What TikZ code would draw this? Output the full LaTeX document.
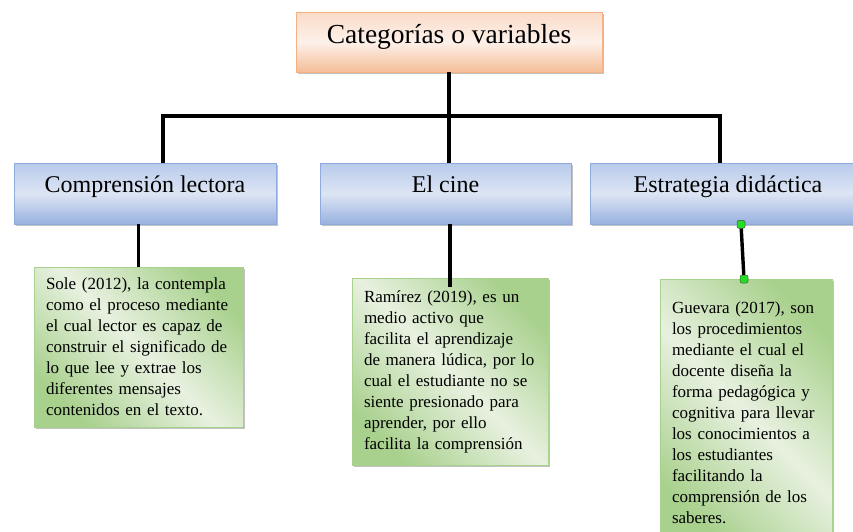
\documentclass[tikz,border=0pt]{standalone}
\usepackage{fontspec}
\setmainfont{Liberation Serif}
\usetikzlibrary{shadows}

\definecolor{peachtop}{HTML}{FADBC8}
\definecolor{peachmid}{HTML}{FDF1EA}
\definecolor{peachbot}{HTML}{F5BD98}
\definecolor{peachline}{HTML}{F4B183}
\definecolor{bluetop}{HTML}{B8CAEA}
\definecolor{bluemid}{HTML}{DDE5F4}
\definecolor{bluebot}{HTML}{98B1DF}
\definecolor{blueline}{HTML}{8FAADC}
\definecolor{greendark}{HTML}{A9D18E}
\definecolor{greenlight}{HTML}{E8F1E0}
\definecolor{handlegreen}{HTML}{22DD22}

\begin{document}
\begin{tikzpicture}[x=1pt, y=-1pt]
    \useasboundingbox (0,0) rectangle (853,531);
    \begin{scope}[all/.style={rectangle, line width=0.6pt, drop shadow={shadow xshift=1.5pt, shadow yshift=-1.5pt, opacity=0.4, fill=black!60}},
        catbox/.style={all, draw=peachline, top color=peachtop, bottom color=peachbot, middle color=peachmid,
            minimum width=306pt, minimum height=60pt, font=\fontsize{27.5}{31}\selectfont, text height=19pt, text depth=17pt},
        topic/.style={all, draw=blueline, top color=bluetop, bottom color=bluebot, middle color=bluemid,
            minimum height=61pt, font=\fontsize{24}{28}\selectfont, text height=17pt, text depth=20pt},
        note/.style={all, draw=greendark, shading=axis, top color=greendark, bottom color=greendark, middle color=greenlight, shading angle=-45,
            inner xsep=12pt, align=left, font=\fontsize{17}{21}\selectfont},
        link/.style={line width=3.4pt, black},
        handle/.style={rectangle, rounded corners=2pt, fill=handlegreen, draw=black!70, line width=0.5pt, minimum size=8pt, inner sep=0pt}]

        \node[catbox] (cat) at (449, 42) {Categorías o variables};

        \node[topic, minimum width=262pt] (comp) at (145, 193.5) {Comprensión lectora};
        \node[topic, minimum width=251pt] (cine) at (445.5, 193.5) {El cine};
        \node[topic, minimum width=276pt] (estr) at (728, 193.5) {Estrategia didáctica};

        \node[note, minimum height=160pt, text width=185pt] (sole) at (138.5, 347)
            {Sole (2012), la contempla\\como el proceso mediante\\el cual lector es capaz de\\construir el significado de\\lo que lee y extrae los\\diferentes mensajes\\contenidos en el texto.};
        \node[note, minimum height=187pt, text width=172pt] (ramirez) at (450, 371.5)
            {Ramírez (2019), es un\\medio activo que\\facilita el aprendizaje\\de manera lúdica, por lo\\cual el estudiante no se\\siente presionado para\\aprender, por ello\\facilita la comprensión};
        \node[note, anchor=north, minimum height=266pt, text width=148pt] (guevara) at (746, 279)
            {Guevara (2017), son\\los procedimientos\\mediante el cual el\\docente diseña la\\forma pedagógica y\\cognitiva para llevar\\los conocimientos a\\los estudiantes\\facilitando la\\comprensión de los\\saberes.};

        \coordinate (jl) at (163, 116);
        \coordinate (jr) at (720, 116);
        \begin{scope}[link]
        \draw (cat.south) -- (cat.south |- cine.north);
        \draw (jl |- comp.north) -- (jl) -- (jr) -- (jr |- estr.north);
        \draw (sole.north) -- (sole.north |- comp.south);
        \draw (cine.south -| ramirez.north) -- ([yshift=-9pt]ramirez.north);
        \draw ([xshift=13pt]estr.south) node[handle] {} -- ([xshift=-2pt]guevara.north) node[handle] {};
        \end{scope}
    \end{scope}
\end{tikzpicture}
\end{document}
